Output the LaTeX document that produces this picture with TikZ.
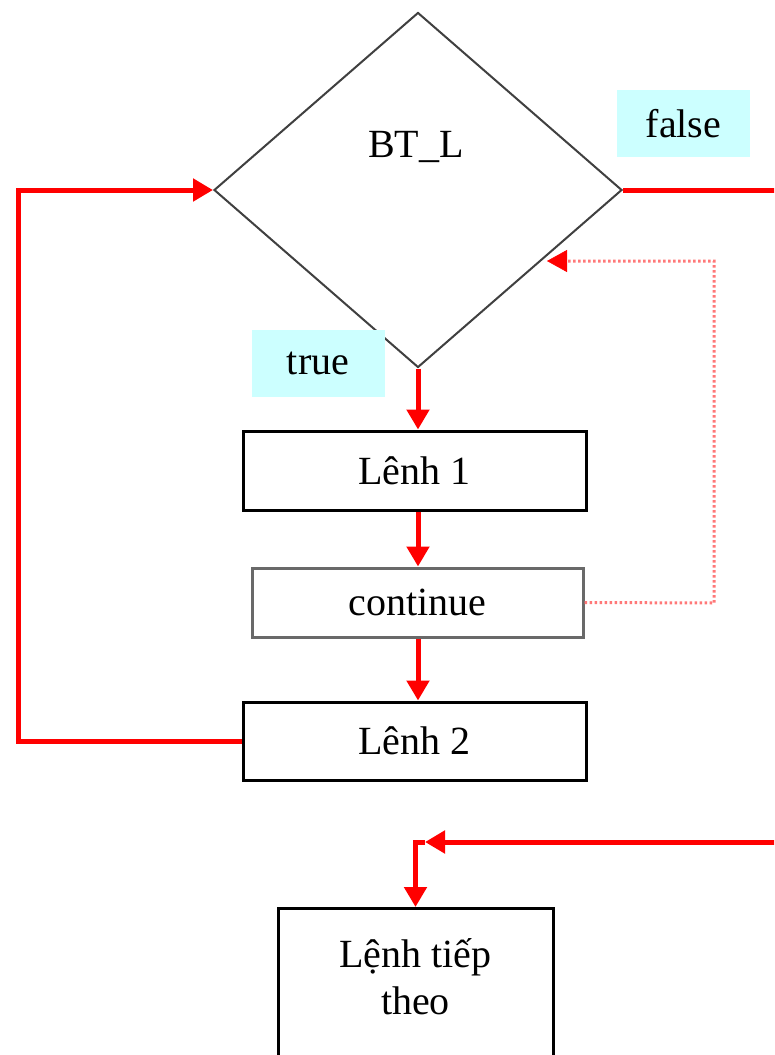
\documentclass[tikz,border=0pt]{standalone}
\usepackage{fontspec}
\setmainfont{Liberation Serif}
\usetikzlibrary{shapes.geometric,arrows.meta}

\definecolor{labelcyan}{RGB}{204,255,255}
\definecolor{diagray}{RGB}{64,64,64}
\definecolor{contgray}{RGB}{105,105,105}
\definecolor{softred}{RGB}{255,120,120}

\begin{document}
\begin{tikzpicture}[x=1pt,y=-1pt,
  txt/.style={font=\fontsize{40}{47}\selectfont, inner sep=0pt},
  stmt/.style={draw=black, line width=3pt, minimum width=343pt, minimum height=79pt,
    inner sep=0pt, font=\fontsize{40}{47}\selectfont},
  tag/.style={fill=labelcyan, minimum width=133pt, minimum height=67pt, inner sep=0pt,
    font=\fontsize{40}{47}\selectfont},
  tip/.style={-{Triangle[length=20pt,width=22pt]}},
  flow/.style={draw=red, line width=5pt, tip},
  jump/.style={draw=softred, line width=3pt, dash pattern=on 2.5pt off 2.5pt,
    -{Triangle[length=20pt,width=22pt,color=red,fill=red,line width=0.5pt]}}
]
\useasboundingbox (0,0) rectangle (774,1055);
\fill[white] (0,0) rectangle (774,1055);
\clip (0,0) rectangle (774,1055);

% condition
\node[diamond, draw=diagray, line width=2pt, minimum width=408pt, minimum height=355pt,
  inner sep=0pt] (dia) at (418,190) {};
\node[txt] (cond) at (416,147) {BT\_L};

% branch labels
\node[tag] (lfalse) at (683.5,123.5) {false};
\node[tag] (ltrue) at (318,363) {true};

% loop body
\node[stmt] (l1) at (414.5,470.5) {Lênh 1};
\node[stmt, draw=contgray, minimum width=331pt, minimum height=69pt] (cont) at (417.5,602.5) {continue};
\node[stmt, minimum height=78pt] (l2) at (414.5,741) {Lênh 2};

% statement after the loop (box runs past the lower edge)
\node[draw=black, line width=3pt, anchor=north, minimum width=275pt, align=center,
  font=\fontsize{40}{47}\selectfont, inner ysep=0pt] (next) at (415.5,907)
  {\rule{0pt}{59pt}Lệnh tiếp\\theo\rule[-160pt]{0pt}{160pt}};

% helper points
\coordinate (loopL) at (18,741);
\coordinate (outR) at (800,190);
\coordinate (join) at (418,842);
\coordinate (jumpR) at (714,603);
\coordinate (jumpT) at (714,261);
\coordinate (jumpEnd) at (547,261);

% true branch and body
\draw[flow] (dia.south) -- (dia.south |- l1.north);
\draw[flow] (dia.south |- l1.south) -- (dia.south |- cont.north);
\draw[flow] (dia.south |- cont.south) -- (dia.south |- l2.north);

% back to the condition
\draw[flow] (l2.west) -- (loopL) |- (dia.west);

% false branch leaves the loop
\draw[flow] (dia.east) -- (outR) |- ([xshift=7pt]join);
\draw[flow] ([xshift=7pt]join) -| (next.north);

% continue jumps to the condition
\draw[jump] (cont.east) -- (jumpR) -- (jumpT) -- (jumpEnd);
\end{tikzpicture}
\end{document}
